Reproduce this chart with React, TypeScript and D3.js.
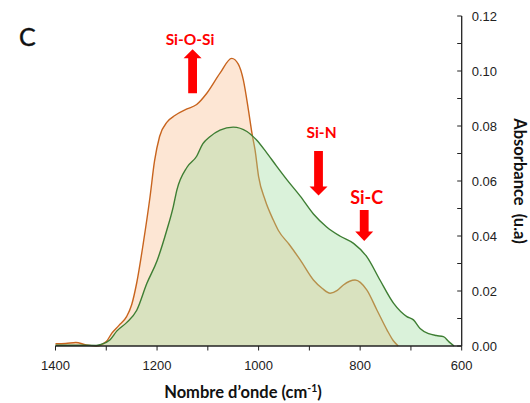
import React from "react";
import * as d3 from "d3";

// Wavenumber (cm-1) / absorbance for each sample
const orangeWn = [1400, 1380, 1360, 1340, 1320, 1300, 1289, 1275, 1260, 1250, 1240, 1227, 1214, 1205, 1195, 1180, 1165, 1141, 1122, 1102, 1076, 1053, 1040, 1030, 1020, 1013, 1007, 1000, 987, 971, 961, 940, 918, 892, 875, 859, 845, 833, 810, 787, 767, 747, 735, 725];
const orangeAbs = [0.0008, 0.0009, 0.0013, 0.0004, 0.0, 0.0016, 0.0047, 0.0075, 0.0107, 0.015, 0.023, 0.0375, 0.054, 0.0672, 0.0762, 0.0815, 0.0838, 0.0862, 0.0878, 0.0919, 0.0992, 0.1046, 0.1025, 0.0967, 0.0858, 0.0773, 0.0713, 0.0616, 0.053, 0.0458, 0.042, 0.037, 0.0313, 0.024, 0.021, 0.0192, 0.0202, 0.0222, 0.024, 0.0204, 0.0131, 0.0058, 0.002, 0.0];

const greenWn = [1400, 1360, 1320, 1312, 1293, 1279, 1260, 1240, 1220, 1200, 1181, 1168, 1161, 1141, 1122, 1110, 1096, 1076, 1050, 1023, 1004, 985, 965, 944, 918, 892, 866, 840, 813, 787, 761, 734, 708, 695, 682, 665, 650, 636, 625, 615];
const greenAbs = [0.0003, 0.0003, 0.0002, 0.0005, 0.0022, 0.0055, 0.0085, 0.013, 0.0228, 0.031, 0.042, 0.0507, 0.0567, 0.065, 0.069, 0.0735, 0.0761, 0.0785, 0.0796, 0.078, 0.0749, 0.0705, 0.0655, 0.0604, 0.0545, 0.048, 0.0433, 0.04, 0.0373, 0.0325, 0.024, 0.0155, 0.0107, 0.0095, 0.0064, 0.0045, 0.0038, 0.0034, 0.0015, 0.0];

const xTicks = [1400, 1200, 1000, 800, 600];
const xMinorTicks = [1400, 1300, 1200, 1100, 1000, 900, 800, 700, 600];
const yTicks = [0.0, 0.02, 0.04, 0.06, 0.08, 0.1, 0.12];
const yMinorTicks = [0.0, 0.01, 0.02, 0.03, 0.04, 0.05, 0.06, 0.07, 0.08, 0.09, 0.1, 0.11, 0.12];

// Band annotations: label, wavenumber, arrow tail/tip absorbance, label absorbance
const bandLabels = ["Si-O-Si", "Si-N", "Si-C"];
const bandWn = [1130, 882, 792];
const bandFrom = [0.0919, 0.0709, 0.0495];
const bandTo = [0.1079, 0.0547, 0.0382];
const bandLabelY = [0.1096, 0.0756, 0.0516];
const bandFontSize = [15.5, 15.5, 18];

const W = 530;
const H = 403;

export default function App() {
  const x = d3.scaleLinear().domain([1400, 600]).range([55.5, 461.7]);
  const y = d3.scaleLinear().domain([0, 0.12]).range([346, 16]);

  const orange = orangeWn.map((w, i) => [w, orangeAbs[i]] as [number, number]);
  const green = greenWn.map((w, i) => [w, greenAbs[i]] as [number, number]);

  const curve = d3.curveMonotoneX;
  const area = d3
    .area<[number, number]>()
    .x((d) => x(d[0]))
    .y0(y(0))
    .y1((d) => y(d[1]))
    .curve(curve);
  const line = d3
    .line<[number, number]>()
    .x((d) => x(d[0]))
    .y((d) => y(d[1]))
    .curve(curve);

  const axisY = y(0);
  const axisX = x(600);
  const tickFont = "'Liberation Sans', Arial, sans-serif";
  const labelFont = "Lato, 'Open Sans', sans-serif";

  const arrow = (i: number) => {
    const cx = x(bandWn[i]);
    const yFrom = y(bandFrom[i]);
    const yTo = y(bandTo[i]);
    const dir = yTo < yFrom ? -1 : 1; // -1 = up
    const head = 9;
    const shaft = 4.4;
    const headLen = i === 2 ? 9.5 : 9;
    const yBase = yTo - dir * headLen;
    const p = [
      [cx - shaft, yFrom],
      [cx - shaft, yBase],
      [cx - head, yBase],
      [cx, yTo],
      [cx + head, yBase],
      [cx + shaft, yBase],
      [cx + shaft, yFrom],
    ];
    return "M" + p.map((q) => q.join(",")).join("L") + "Z";
  };

  return (
    <svg
      width={W}
      height={H}
      style={{ position: "absolute", left: 0, top: 0, background: "#fff" }}
    >
      <rect x={0} y={0} width={W} height={H} fill="#fff" />
      {/* areas */}
      <path d={area(orange) || ""} fill="#FDE6D4" stroke="none" />
      <path d={line(orange) || ""} fill="none" stroke="#C8641E" strokeWidth={1.4} />
      <path d={area(green) || ""} fill="rgb(155,220,155)" fillOpacity={0.37} stroke="none" />
      <path d={line(green) || ""} fill="none" stroke="#3E7E33" strokeWidth={1.4} />

      {/* x axis */}
      <line x1={x(1400)} x2={x(600)} y1={axisY} y2={axisY} stroke="#222" strokeWidth={1.3} />
      {xMinorTicks.map((t) => (
        <line key={"xm" + t} x1={x(t)} x2={x(t)} y1={axisY} y2={axisY + 4.5} stroke="#222" strokeWidth={1} />
      ))}
      {xTicks.map((t) => (
        <text
          key={"xt" + t}
          x={x(t)}
          y={axisY + 24}
          textAnchor="middle"
          fontFamily={tickFont}
          fontSize={13}
          fill="#222"
        >
          {t}
        </text>
      ))}

      {/* y axis (right) */}
      <line x1={axisX} x2={axisX} y1={y(0.12)} y2={axisY} stroke="#222" strokeWidth={1.3} />
      {yMinorTicks.map((t) => (
        <line key={"ym" + t} x1={axisX - 4.5} x2={axisX} y1={y(t)} y2={y(t)} stroke="#222" strokeWidth={1} />
      ))}
      {yTicks.map((t) => (
        <text
          key={"yt" + t}
          x={axisX + 10}
          y={y(t) + 4.6}
          textAnchor="start"
          fontFamily={tickFont}
          fontSize={13}
          fill="#222"
        >
          {t.toFixed(2)}
        </text>
      ))}

      {/* axis titles */}
      <text
        x={243}
        y={398}
        textAnchor="middle"
        fontFamily={labelFont}
        fontWeight={700}
        fontSize={16.5}
        fill="#111"
      >
        Nombre d’onde (cm
        <tspan dy={-6} fontSize={10.5}>-1</tspan>
        <tspan dy={6}>)</tspan>
      </text>
      <text
        transform={`translate(514,181) rotate(90)`}
        textAnchor="middle"
        fontFamily={labelFont}
        fontWeight={700}
        fontSize={16.5}
        fill="#111"
        style={{ whiteSpace: "pre" }}
      >
        {"Absorbance  (u.a)"}
      </text>

      {/* panel letter */}
      <text x={19} y={46} fontFamily={labelFont} fontSize={25} fill="#111" stroke="#111" strokeWidth={0.4}>
        C
      </text>

      {/* band annotations */}
      {bandLabels.map((lab, i) => (
        <g key={lab}>
          <path d={arrow(i)} fill="#FF0000" />
          <text
            x={x(bandWn[i]) - (i === 0 ? 2.5 : i === 1 ? -3 : -2.5)}
            y={y(bandLabelY[i])}
            textAnchor="middle"
            fontFamily={labelFont}
            fontWeight={700}
            fontSize={bandFontSize[i]}
            fill="#FF0000"
          >
            {lab}
          </text>
        </g>
      ))}
    </svg>
  );
}
